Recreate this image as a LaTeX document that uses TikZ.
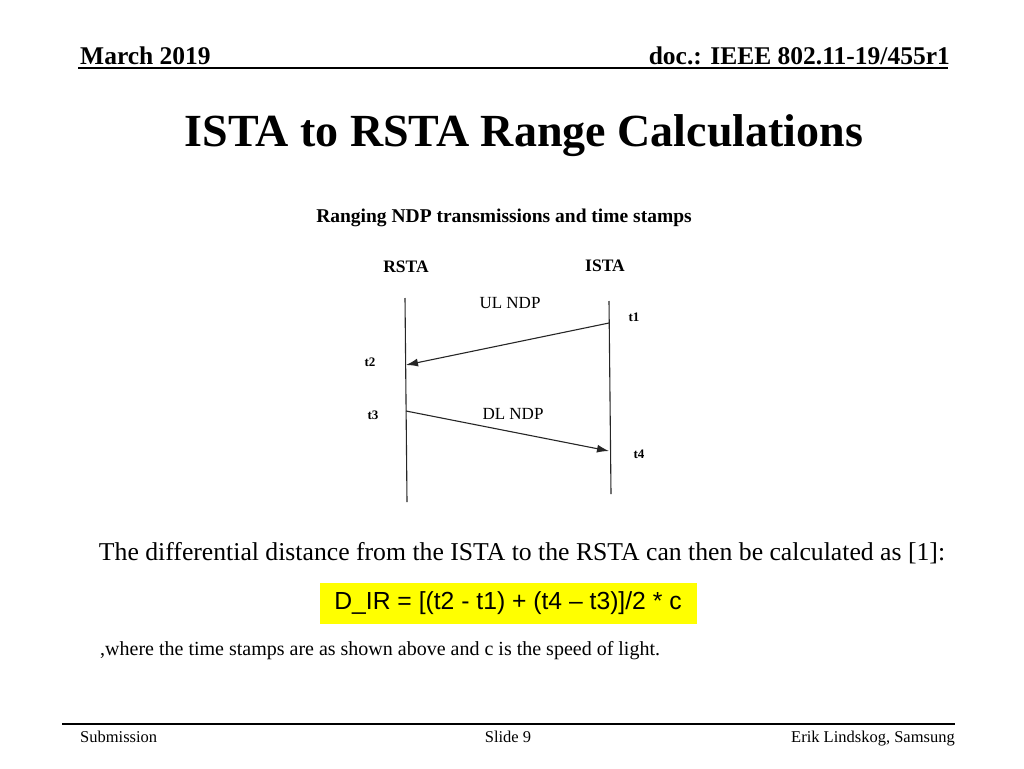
\documentclass[tikz,border=0pt]{standalone}
\usepackage{fontspec}
\setmainfont{Liberation Serif}
\newfontfamily\arialfont{Liberation Sans}
\usepackage{tikz}
\usetikzlibrary{arrows.meta,positioning,calc}
\definecolor{hiyellow}{RGB}{255,255,0}

\begin{document}
\begin{tikzpicture}[x=1pt,y=-1pt,
  lifeline/.style={line width=1.1pt,black!85},
  msg/.style={-{Latex[length=12pt,width=8pt]},line width=1.1pt,black!85},
  tstamp/.style={font=\fontsize{13}{15}\selectfont\bfseries},
  lbl/.style={font=\fontsize{17}{20}\selectfont}]
\useasboundingbox (0,0) rectangle (1024,768);
% header
\node[anchor=base west,inner sep=0,font=\fontsize{25.5}{30}\selectfont\bfseries] (date) at (80,64) {March 2019};
\node[anchor=base east,inner sep=0,font=\fontsize{25.5}{30}\selectfont\bfseries] (doc) at (950,64) {doc.: IEEE 802.11-19/455r1};
\draw[line width=1.8pt] (78,68) -- (948,68);
\node[font=\fontsize{46}{52}\selectfont\bfseries] (title) at (524,136) {ISTA to RSTA Range Calculations};
\node[font=\fontsize{19.5}{23}\selectfont\bfseries] (sub) at (504,218) {Ranging NDP transmissions and time stamps};

% stations and lifelines
\node[font=\fontsize{17.5}{20}\selectfont\bfseries] (rsta) at (406,267) {RSTA};
\node[font=\fontsize{17.5}{20}\selectfont\bfseries] (ista) at (605,266) {ISTA};
\coordinate (rtop) at (405,298);
\coordinate (rbot) at (407,502);
\coordinate (itop) at (609,301);
\coordinate (ibot) at (611,494);
\draw[lifeline] (rtop) -- (rbot);
\draw[lifeline] (itop) -- (ibot);

% ranging NDPs
\coordinate (t1p) at (609,323);
\coordinate (t2p) at (406,365);
\coordinate (t3p) at (406,411);
\coordinate (t4p) at (609,451);
\draw[msg] (t1p) -- (t2p);
\draw[msg] (t3p) -- (t4p);
\node[lbl] (ul) at (510,303) {UL NDP};
\node[lbl] (dl) at (513,414) {DL NDP};
\node[tstamp] (t1) at (634,317) {t1};
\node[tstamp] (t2) at (370,362) {t2};
\node[tstamp] (t3) at (373,415) {t3};
\node[tstamp] (t4) at (639,454) {t4};

% formula
\node[font=\fontsize{25.7}{30}\selectfont] (txt) at (522,553) {The differential distance from the ISTA to the RSTA can then be calculated as [1]:};
\node[fill=hiyellow,minimum width=377pt,minimum height=41pt,inner sep=0,font=\arialfont\fontsize{24.7}{28}\selectfont] (eq) at (508,603) {D\_IR = [(t2 - t1) + (t4 – t3)]/2 * c};
\node[anchor=west,inner sep=0,font=\fontsize{20}{24}\selectfont] (note) at (100,651) {,where the time stamps are as shown above and c is the speed of light.};

% footer
\draw[line width=1.3pt] (62,724) -- (955,724);
\node[anchor=base west,inner sep=0,font=\fontsize{16.5}{19}\selectfont] (subm) at (80,742) {Submission};
\node[anchor=base,inner sep=0,font=\fontsize{16.5}{19}\selectfont] (slide) at (508,742) {Slide 9};
\node[anchor=base east,inner sep=0,font=\fontsize{16.5}{19}\selectfont] (auth) at (955,742) {Erik Lindskog, Samsung};
\end{tikzpicture}
\end{document}
